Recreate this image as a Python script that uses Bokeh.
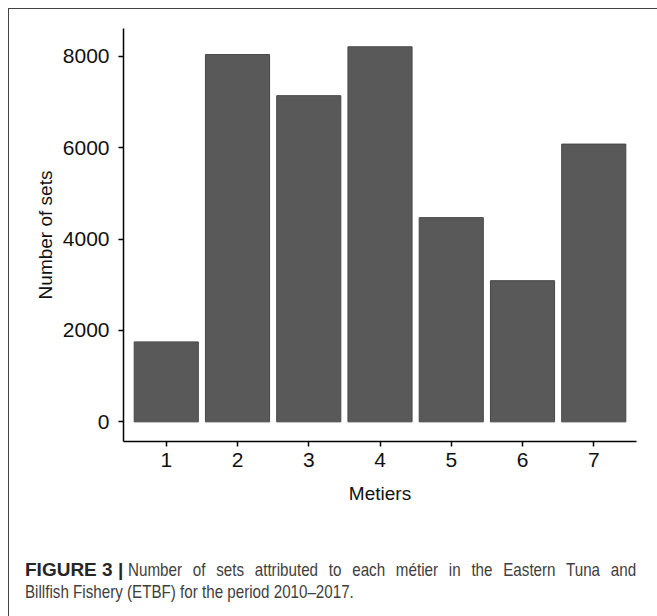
from bokeh.plotting import figure
from bokeh.models import Range1d, FixedTicker, Div
from bokeh.layouts import column
from bokeh.embed import file_html
from bokeh.resources import INLINE

categories = ["1", "2", "3", "4", "5", "6", "7"]
sets = [1750, 8040, 7140, 8210, 4470, 3090, 6080]
y_ticks = [0, 2000, 4000, 6000, 8000]
caption_bold = "FIGURE 3 |"
caption_line1 = "Number of sets attributed to each métier in the Eastern Tuna and"
caption_line2 = "Billfish Fishery (ETBF) for the period 2010–2017."

x_pos = list(range(1, len(categories) + 1))

W, H = 648, 530
p = figure(width=W, height=H, output_backend="svg", toolbar_location=None,
           x_range=Range1d(0.4, 7.6), y_range=Range1d(-430, 8610),
           min_border_left=114, min_border_right=21, min_border_top=19,
           min_border_bottom=98)
p.outline_line_color = None
p.xgrid.visible = False
p.ygrid.visible = False
p.background_fill_color = "white"

p.vbar(x=x_pos, top=sets, bottom=0, width=0.9, fill_color="#595959",
       line_color="#474747", line_width=1)

for ax in (p.xaxis[0], p.yaxis[0]):
    ax.axis_line_color = "black"
    ax.axis_line_width = 1.5
    ax.major_tick_line_color = "black"
    ax.major_tick_line_width = 1.5
    ax.major_tick_in = 0
    ax.major_tick_out = 5
    ax.minor_tick_line_color = None
    ax.major_label_text_font = "Liberation Sans"
    ax.major_label_text_font_size = "21px"
    ax.major_label_text_color = "#111111"
    ax.axis_label_text_font = "Liberation Sans"
    ax.axis_label_text_font_size = "19px"
    ax.axis_label_text_font_style = "normal"
    ax.axis_label_text_color = "#111111"

p.xaxis.ticker = FixedTicker(ticks=x_pos)
p.xaxis.major_label_overrides = {i: c for i, c in zip(x_pos, categories)}
p.xaxis.axis_label = "Metiers"
p.xaxis.major_label_standoff = 6
p.xaxis.axis_label_standoff = 13

p.yaxis.ticker = FixedTicker(ticks=y_ticks)
p.yaxis.axis_label = "Number of sets"
p.yaxis.major_label_standoff = 9
p.yaxis.axis_label_standoff = 4

narrow = ("display:inline-block;transform:scaleX(0.82);transform-origin:0 50%;")
html = ('<span style="font-weight:bold;color:#262626;font-size:19px;">' + caption_bold +
        '</span>&nbsp;<span style="' + narrow + 'width:620px;word-spacing:8px;">' +
        caption_line1 + '</span><br><span style="' + narrow + 'width:400px;">' +
        caption_line2 + '</span>')
cap = Div(text=html, width=W, height=76,
          styles={"font-family": "'Liberation Sans'",
                  "font-size": "18.5px", "color": "#404040", "line-height": "22px",
                  "padding-left": "11px", "padding-top": "15px",
                  "box-sizing": "border-box", "white-space": "nowrap"})

layout = column(p, cap, spacing=0,
                styles={"margin-left": "8px", "margin-top": "8px",
                        "border-left": "1px solid #444444",
                        "border-top": "1px solid #444444"})

open("out.html", "w").write(file_html(layout, INLINE))
